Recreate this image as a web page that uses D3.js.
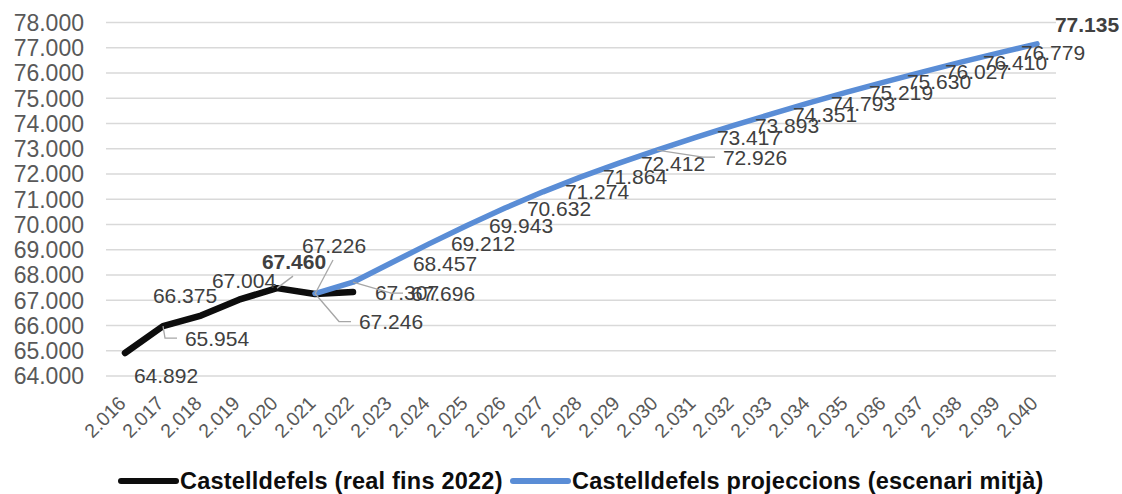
<!DOCTYPE html>
<html>
<head>
<meta charset="utf-8">
<script src="https://cdn.jsdelivr.net/npm/d3@7"></script>
<style>
  body { margin: 0; background: #fff; }
  svg { display: block; font-family: "Liberation Sans", Arial, sans-serif; }
</style>
</head>
<body>
<div id="chartPlaceholder"></div>
<script>
const years = [2016, 2017, 2018, 2019, 2020, 2021, 2022, 2023, 2024, 2025, 2026, 2027, 2028,
  2029, 2030, 2031, 2032, 2033, 2034, 2035, 2036, 2037, 2038, 2039, 2040];
const yTicks = [64000, 65000, 66000, 67000, 68000, 69000, 70000, 71000, 72000, 73000, 74000,
  75000, 76000, 77000, 78000];

const realYears = [2016, 2017, 2018, 2019, 2020, 2021, 2022];
const realValues = [64892, 65954, 66375, 67004, 67460, 67226, 67307];

const projYears = [2021, 2022, 2023, 2024, 2025, 2026, 2027, 2028, 2029, 2030, 2031, 2032,
  2033, 2034, 2035, 2036, 2037, 2038, 2039, 2040];
const projValues = [67246, 67696, 68457, 69212, 69943, 70632, 71274, 71864, 72412, 72926,
  73417, 73893, 74351, 74793, 75219, 75630, 76027, 76410, 76779, 77135];

const seriesNames = ["Castelldefels (real fins 2022)", "Castelldefels projeccions (escenari mitjà)"];
const seriesColors = ["#0d0d0d", "#5a8dd6"];

// labels moved by hand in the original: offset of label centre from the point, leader type
const defaultLabel = [54, 0, null];
const realLabelMoves = {
  2016: [41, 22, null], 2017: [54, 12, "side"], 2018: [-16, -20, null],
  2019: [5, -19, null], 2020: [17, -27, "up"], 2021: [19, -49, "up"]
};
const projLabelMoves = {
  2021: [76, 28, "side"], 2022: [90, 11, "side"], 2030: [98, 7, "side"], 2040: [50, -19, null]
};
const boldLabels = { real: [2020], proj: [2040] };

const fmt = d3.formatLocale({ decimal: ",", thousands: ".", grouping: [3], currency: ["", ""] }).format(",d");

const margin = { top: 22, left: 106, right: 66, bottom: 118.5 },
  width = 1122, height = 494;

const svg = d3.select("#chartPlaceholder").append("svg")
  .attr("width", width).attr("height", height);

const x = d3.scaleBand().domain(years).range([margin.left, width - margin.right]);
const y = d3.scaleLinear().domain([64000, 78000]).range([height - margin.bottom, margin.top]);
const cx = (yr) => x(yr) + x.bandwidth() / 2;

// grid + y labels
const yAxis = svg.append("g")
  .attr("transform", `translate(${margin.left}, 0)`)
  .call(d3.axisLeft(y).tickValues(yTicks).tickFormat(fmt)
    .tickSize(-(width - margin.left - margin.right)).tickPadding(22));
yAxis.select(".domain").remove();
yAxis.selectAll("line").attr("stroke", "#d9d9d9").attr("stroke-width", 1.5);
yAxis.selectAll("text").attr("fill", "#595959").style("font-size", "23px").attr("dy", "0.36em");

// x labels
const xAxis = svg.append("g")
  .attr("transform", `translate(0, ${y(64000)})`)
  .call(d3.axisBottom(x).tickFormat(fmt).tickSize(0));
xAxis.select(".domain").remove();
xAxis.selectAll("text")
  .attr("fill", "#595959").style("font-size", "19.5px")
  .attr("text-anchor", "end").attr("y", 0).attr("dy", 0)
  .attr("transform", "translate(2, 29) rotate(-45)");

const line = d3.line().x((d) => cx(d.year)).y((d) => y(d.value));
const realData = realYears.map((yr, i) => ({ year: yr, value: realValues[i] }));
const projData = projYears.map((yr, i) => ({ year: yr, value: projValues[i] }));

svg.append("path").datum(realData).attr("d", line)
  .attr("fill", "none").attr("stroke", seriesColors[0]).attr("stroke-width", 6.5)
  .attr("stroke-linejoin", "round").attr("stroke-linecap", "round");
svg.append("path").datum(projData).attr("d", line)
  .attr("fill", "none").attr("stroke", seriesColors[1]).attr("stroke-width", 5.5)
  .attr("stroke-linejoin", "round").attr("stroke-linecap", "round");

// data labels
function drawLabels(data, moves, bold) {
  const g = svg.append("g");
  data.forEach((d) => {
    const px = cx(d.year), py = y(d.value);
    const m = moves[d.year] || defaultLabel;
    const lx = px + m[0], ly = py + m[1];
    const isBold = bold.includes(d.year);
    if (m[2] === "side") {
      const left = lx - 32;
      g.append("polyline")
        .attr("points", `${px},${py} ${left - 20},${ly} ${left - 8},${ly}`)
        .attr("fill", "none").attr("stroke", "#a6a6a6").attr("stroke-width", 1.3);
    } else if (m[2] === "up") {
      g.append("line")
        .attr("x1", px).attr("y1", py).attr("x2", lx - 1).attr("y2", ly + 15)
        .attr("stroke", "#a6a6a6").attr("stroke-width", 1.3);
    }
    g.append("text")
      .attr("x", lx).attr("y", ly).attr("dy", "0.36em")
      .attr("text-anchor", "middle")
      .attr("fill", "#404040")
      .style("font-size", "21px")
      .style("font-weight", isBold ? "bold" : "normal")
      .text(fmt(d.value));
  });
}
drawLabels(realData, realLabelMoves, boldLabels.real);
drawLabels(projData, projLabelMoves, boldLabels.proj);

// legend
const legendItems = [{ x: 121, name: seriesNames[0], color: seriesColors[0] },
  { x: 513, name: seriesNames[1], color: seriesColors[1] }];
const legend = svg.append("g").attr("transform", "translate(0, 481)");
legendItems.forEach((d) => {
  legend.append("line")
    .attr("x1", d.x).attr("x2", d.x + 55).attr("y1", 0).attr("y2", 0)
    .attr("stroke", d.color).attr("stroke-width", 6).attr("stroke-linecap", "round");
  legend.append("text")
    .attr("x", d.x + 59).attr("y", 0).attr("dy", "0.35em")
    .attr("fill", "#0d0d0d")
    .style("font-size", "23.5px").style("font-weight", "bold")
    .style("letter-spacing", "0.22px")
    .text(d.name);
});
</script>
</body>
</html>
